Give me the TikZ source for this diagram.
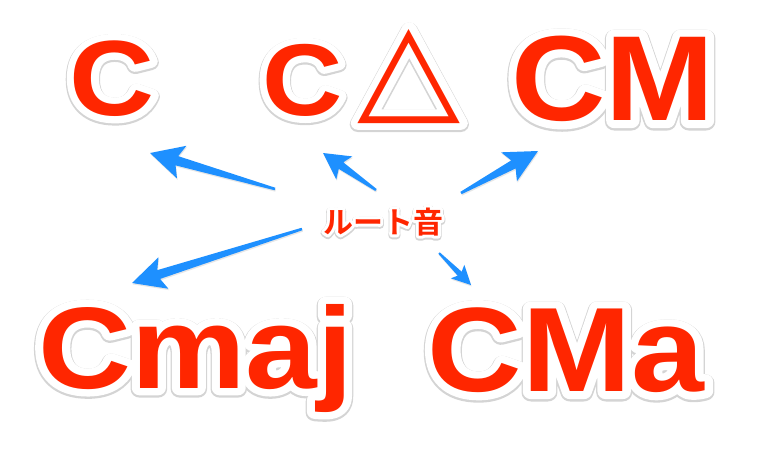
\documentclass[tikz,border=0pt]{standalone}
\usepackage{fontspec}
\setmainfont{Liberation Sans}
\newfontface\latred{Liberation Sans Bold}
\newfontface\latwhite{Liberation Sans Bold}[FakeBold=12.7]
\newfontface\latgray{Liberation Sans Bold}[FakeBold=14.6]
\newfontface\trired{DejaVu Sans}
\newfontface\triwhite{DejaVu Sans}[FakeBold=11]
\newfontface\trigray{DejaVu Sans}[FakeBold=12.6]
\newfontface\jpred{Noto Sans CJK JP Bold}
\newfontface\jpwhite{Noto Sans CJK JP Bold}[FakeBold=20]
\newfontface\jpgray{Noto Sans CJK JP Bold}[FakeBold=25]
\usetikzlibrary{calc,shadows}
\definecolor{chordred}{RGB}{255,38,0}
\definecolor{arrowblue}{RGB}{30,144,255}
\definecolor{halogray}{RGB}{212,212,212}
% white halo with a faint grey rim under it
\newcommand\haloed[1]{\special{pdf:literal direct 1 j}%
  \makebox[0pt][l]{\raisebox{-1.2pt}{\color{halogray}\let\latfont\latgray\let\trifont\trigray\let\jpfont\jpgray\latfont #1}}%
  \makebox[0pt][l]{\color{white}\let\latfont\latwhite\let\trifont\triwhite\let\jpfont\jpwhite\latfont #1}%
  \let\latfont\latred\let\trifont\trired\let\jpfont\jpred\latfont #1}

\begin{document}
\begin{tikzpicture}[x=1pt,y=-1pt,
  chord/.style={text=chordred, inner sep=0pt, anchor=base},
  rootarrow/.style={fill=arrowblue, drop shadow={opacity=0.2, shadow xshift=0.6pt, shadow yshift=-1.4pt}}]
\useasboundingbox (0,0) rectangle (780,459);
% chord names
\node[chord, font=\fontsize{107}{107}\selectfont] (c) at (112,115.5) {\scalebox{1.1}[1]{\haloed{C}}};
\node[chord, anchor=base west, font=\fontsize{102}{102}\selectfont] (ctri) at (262,115.5)
  {\scalebox{1.09}[1]{\haloed{C\kern14pt\raisebox{7.5pt}{\fontsize{123}{123}\selectfont\trifont △}}}};
\node[chord, font=\fontsize{121}{121}\selectfont] (cm) at (613,120.5) {\scalebox{1.08}[1]{\haloed{CM}}};
\node[chord, font=\fontsize{116}{116}\selectfont] (cmaj) at (195.5,388) {\scalebox{1.11}[1]{\haloed{Cmaj}}};
\node[chord, font=\fontsize{120}{120}\selectfont] (cma) at (566,391.5) {\scalebox{1.09}[1]{\haloed{CMa}}};
\node[chord, font=\fontsize{30}{30}\selectfont] (root) at (383,233) {\haloed{\jpfont ルート音}};
% arrow ends
\coordinate (c-from) at (275,189);    \coordinate (c-to) at (150,153);
\coordinate (ctri-from) at (376,190); \coordinate (ctri-to) at (323,153);
\coordinate (cm-from) at (461,193);   \coordinate (cm-to) at (538,151);
\coordinate (cmaj-from) at (302,229); \coordinate (cmaj-to) at (132,283);
\coordinate (cma-from) at (439,253);  \coordinate (cma-to) at (471,285);
\foreach \tl/\hd/\len/\jn/\wid/\sw/\tw in {c-from/c-to/33pt/28pt/17pt/4.8pt/1.3pt,
    ctri-from/ctri-to/26pt/22pt/14pt/4pt/1.2pt, cm-from/cm-to/33pt/28pt/16.5pt/4.6pt/1.3pt,
    cmaj-from/cmaj-to/33pt/28pt/16.5pt/4.6pt/1.3pt, cma-from/cma-to/19pt/16pt/9.5pt/2.8pt/1pt}{
  \fill[rootarrow] ($(\tl)!\tw!90:(\hd)$) -- ($(\hd)!\jn!(\tl)!\sw!-90:(\tl)$)
    -- ($(\hd)!\len!(\tl)!\wid!-90:(\tl)$) -- (\hd) -- ($(\hd)!\len!(\tl)!\wid!90:(\tl)$)
    -- ($(\hd)!\jn!(\tl)!\sw!90:(\tl)$) -- ($(\tl)!\tw!-90:(\hd)$) -- cycle;}
\end{tikzpicture}
\end{document}
